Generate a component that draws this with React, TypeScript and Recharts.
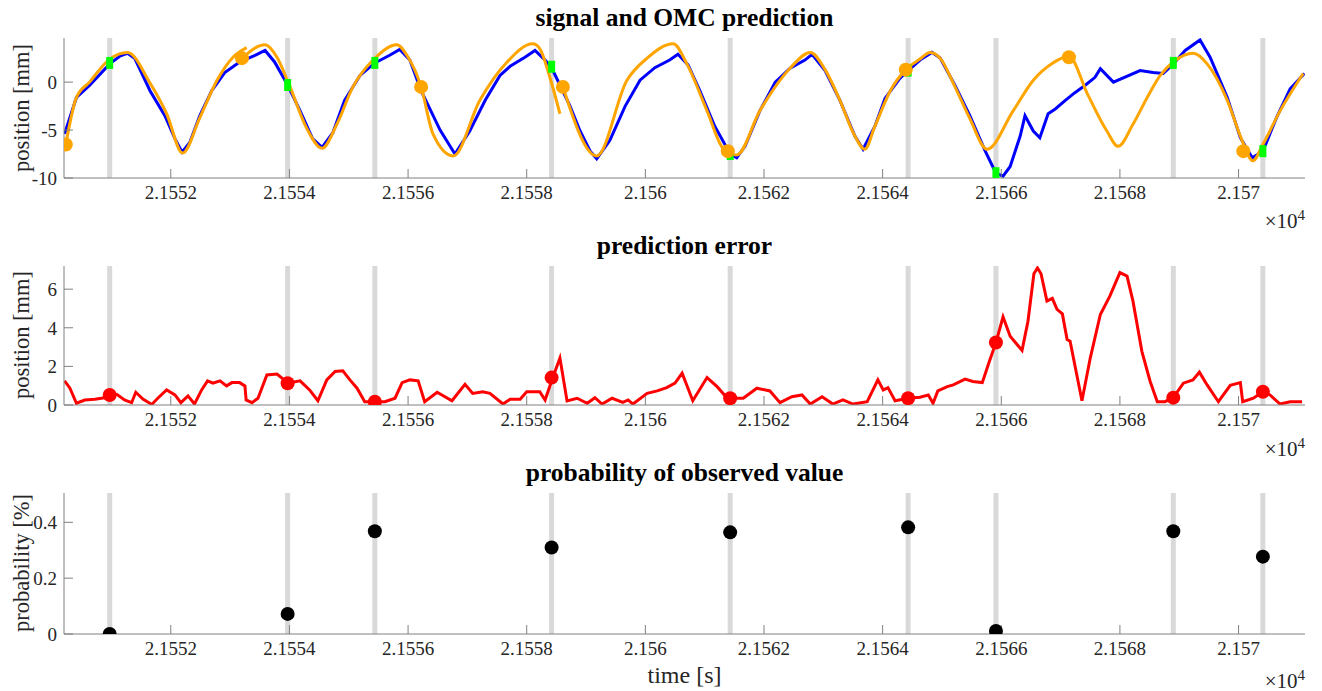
import { ComposedChart, Line, Scatter, XAxis, YAxis, ReferenceLine } from "recharts";

// observation instants (gray lines) and what was measured there
const obsTime = [21550.97, 21553.97, 21555.44, 21558.42, 21561.43, 21564.43, 21565.91, 21568.9, 21570.41];
const obsPos = [2.0, -0.3, 2.0, 1.6, -7.5, 1.2, -9.5, 2.0, -7.2];
const obsError = [0.52, 1.13, 0.17, 1.42, 0.35, 0.35, 3.24, 0.38, 0.69];
const obsProb = [0, 0.072, 0.368, 0.31, 0.364, 0.382, 0.011, 0.368, 0.277];

// OMC prediction markers
const omcTime = [21550.23, 21553.2, 21556.22, 21558.61, 21561.39, 21564.39, 21567.14, 21570.08];
const omcPos = [-6.5, 2.5, -0.5, -0.5, -7.2, 1.3, 2.6, -7.2];

// measured signal
const signalTime = [
  21550.21, 21550.41, 21550.63, 21550.97, 21551.14, 21551.27, 21551.39, 21551.65, 21551.9, 21552.07,
  21552.19, 21552.32, 21552.49, 21552.69, 21552.91, 21553.16, 21553.42, 21553.59, 21553.75, 21553.97,
  21554.18, 21554.39, 21554.55, 21554.73, 21554.93, 21555.19, 21555.44, 21555.69, 21555.86, 21556.03,
  21556.22, 21556.54, 21556.79, 21557.04, 21557.3, 21557.55, 21557.72, 21557.97, 21558.14, 21558.31,
  21558.42, 21558.56, 21558.73, 21558.9, 21559.07, 21559.18, 21559.4, 21559.66, 21559.91, 21560.16,
  21560.41, 21560.55, 21560.72, 21560.92, 21561.17, 21561.43, 21561.54, 21561.68, 21561.93, 21562.19,
  21562.44, 21562.69, 21562.81, 21563.03, 21563.28, 21563.53, 21563.67, 21563.87, 21564.04, 21564.29,
  21564.43, 21564.63, 21564.83, 21564.97, 21565.22, 21565.47, 21565.73, 21565.91, 21566.03, 21566.15,
  21566.32, 21566.4, 21566.54, 21566.65, 21566.79, 21566.91, 21567.08, 21567.24, 21567.41, 21567.58,
  21567.67, 21567.89, 21568.34, 21568.56, 21568.73, 21568.9, 21569.1, 21569.35, 21569.52, 21569.81,
  21570.03, 21570.23, 21570.41, 21570.64, 21570.87, 21571.11,
];
const signalPos = [
  -5.4, -1.6, -0.35, 1.9, 2.7, 3.0, 2.5, -0.9, -3.5, -5.9,
  -7.3, -6.3, -3.5, -0.9, 1.0, 2.1, 2.8, 3.3, 2.1, -0.3,
  -3.0, -5.9, -6.8, -5.3, -1.9, 0.7, 2.0, 2.8, 3.4, 2.3,
  -0.9, -5.0, -7.5, -5.1, -1.9, 0.7, 1.65, 2.6, 3.3, 2.3,
  1.5, -0.3, -2.5, -5.1, -7.2, -8.0, -6.1, -2.5, 0.2, 1.5,
  2.3, 2.9, 1.8, -0.9, -4.6, -7.5, -7.9, -6.7, -3.0, 0.0,
  1.45, 2.3, 2.9, 1.2, -1.9, -5.6, -7.0, -4.6, -1.7, 0.4,
  1.2, 2.3, 3.1, 2.5, -0.35, -3.5, -7.2, -9.5, -9.8, -8.8,
  -5.6, -3.5, -5.1, -5.8, -3.3, -2.8, -1.9, -1.1, -0.35, 0.5,
  1.4, 0.0, 1.2, 1.0, 0.9, 1.9, 3.3, 4.4, 2.6, -1.6,
  -5.8, -7.9, -7.2, -3.7, -0.7, 0.9,
];

// OMC prediction, null marks a restart of the predictor
const predTime = [
  21550.23, 21550.41, 21550.63, 21550.97, 21551.27, 21551.65, 21551.93, 21552.2, 21552.49, 21552.78,
  21553.05, 21553.28, 21553.28,
  21553.2, 21553.59, 21553.79, 21554.01, 21554.29, 21554.55, 21554.8, 21555.07, 21555.41, 21555.81,
  21555.98, 21556.22, 21556.42, 21556.76, 21557.21, 21557.67, 21558.1, 21558.22, 21558.39, 21558.56,
  21558.56,
  21558.61, 21559.18, 21559.69, 21560.03, 21560.47, 21560.7, 21561.04, 21561.31, 21561.54, 21561.93,
  21562.44, 21562.78, 21563.03, 21563.28, 21563.53, 21563.7, 21563.87, 21564.13, 21564.39, 21564.63,
  21564.8, 21564.97, 21565.22, 21565.47, 21565.76, 21566.2, 21566.54, 21566.87, 21567.14, 21567.45,
  21567.78, 21567.97, 21568.22, 21568.46, 21568.68, 21568.9, 21569.24, 21569.47, 21569.81, 21570.06,
  21570.24, 21570.41, 21570.7, 21571.09,
];
const predPos = [
  -6.5, -1.6, 0.0, 2.4, 3.1, -0.1, -3.3, -7.4, -3.7, 0.2,
  2.6, 3.6, null,
  2.5, 3.9, 2.6, -0.5, -4.8, -6.9, -4.4, -0.5, 2.3, 3.9,
  2.8, -0.5, -5.4, -7.7, -1.9, 2.1, 4.0, 3.5, 0.5, -3.3,
  null,
  -0.5, -7.7, 0.2, 2.5, 4.0, 1.9, -3.0, -6.9, -7.6, -3.0,
  1.45, 3.1, 1.3, -1.9, -5.6, -7.0, -4.6, -0.9, 1.3, 2.4,
  3.1, 2.5, -0.5, -3.8, -7.0, -3.0, 0.2, 2.0, 2.7, -1.2,
  -5.1, -6.7, -4.4, -1.6, 0.7, 2.1, 3.0, 1.9, -1.9, -6.1,
  -8.2, -6.5, -3.0, 0.9,
];

// prediction error
const errorTime = [
  21550.21, 21550.3, 21550.41, 21550.55, 21550.72, 21550.94, 21551.09, 21551.22, 21551.34, 21551.41,
  21551.53, 21551.68, 21551.78, 21551.93, 21552.07, 21552.17, 21552.29, 21552.4, 21552.52, 21552.62,
  21552.71, 21552.83, 21552.94, 21553.03, 21553.16, 21553.25, 21553.27, 21553.37, 21553.47, 21553.62,
  21553.79, 21553.89, 21553.97, 21554.18, 21554.34, 21554.48, 21554.63, 21554.77, 21554.9, 21555.02,
  21555.14, 21555.27, 21555.44, 21555.61, 21555.78, 21555.9, 21556.03, 21556.17, 21556.28, 21556.49,
  21556.74, 21556.96, 21557.09, 21557.26, 21557.38, 21557.6, 21557.72, 21557.89, 21558.0, 21558.22,
  21558.31, 21558.44, 21558.56, 21558.68, 21558.85, 21559.02, 21559.15, 21559.27, 21559.44, 21559.62,
  21559.71, 21559.79, 21560.03, 21560.2, 21560.36, 21560.5, 21560.62, 21560.8, 21561.04, 21561.21,
  21561.38, 21561.65, 21561.88, 21562.1, 21562.27, 21562.47, 21562.64, 21562.78, 21562.98, 21563.16,
  21563.33, 21563.5, 21563.74, 21563.92, 21564.01, 21564.09, 21564.21, 21564.43, 21564.63, 21564.77,
  21564.85, 21564.93, 21565.09, 21565.19, 21565.39, 21565.52, 21565.68, 21565.78, 21565.91, 21566.03,
  21566.15, 21566.35, 21566.45, 21566.55, 21566.61, 21566.67, 21566.77, 21566.86, 21566.94, 21567.03,
  21567.11, 21567.16, 21567.36, 21567.5, 21567.67, 21567.83, 21568.0, 21568.12, 21568.22, 21568.37,
  21568.51, 21568.63, 21568.76, 21568.9, 21569.07, 21569.23, 21569.34, 21569.47, 21569.66, 21569.86,
  21570.03, 21570.07, 21570.25, 21570.41, 21570.53, 21570.7, 21570.87, 21571.07,
];
const errorPos = [
  1.25, 0.87, 0.09, 0.26, 0.3, 0.4, 0.55, 0.26, 0.12, 0.66,
  0.31, 0.03, 0.35, 0.78, 0.52, 0.12, 0.47, 0.05, 0.78, 1.25,
  1.13, 1.25, 0.99, 1.16, 1.16, 0.99, 0.26, 0.12, 0.35, 1.56,
  1.6, 1.35, 1.13, 1.25, 0.78, 0.22, 1.3, 1.74, 1.77, 1.3,
  0.87, 0.17, 0.17, 0.17, 0.35, 1.16, 1.3, 1.25, 0.17, 0.66,
  0.22, 1.07, 0.6, 0.69, 0.6, 0.05, 0.3, 0.3, 0.69, 0.69,
  0.26, 1.42, 2.43, 0.21, 0.35, 0.09, 0.38, 0.05, 0.35, 0.14,
  0.26, 0.05, 0.6, 0.73, 0.9, 1.13, 1.65, 0.22, 1.42, 0.95,
  0.35, 0.35, 0.87, 0.73, 0.12, 0.43, 0.52, 0.05, 0.43, 0.05,
  0.26, 0.05, 0.17, 1.3, 0.78, 0.9, 0.22, 0.35, 0.4, 0.52,
  0.09, 0.73, 0.95, 1.04, 1.34, 1.22, 1.16, 2.08, 3.24, 4.56,
  3.56, 2.83, 4.34, 6.8, 7.1, 6.8, 5.38, 5.52, 4.95, 4.72,
  3.39, 3.3, 0.22, 2.43, 4.69, 5.64, 6.86, 6.68, 5.38, 2.78,
  1.22, 0.17, 0.17, 0.38, 1.13, 1.3, 1.7, 1.04, 0.17, 1.02,
  1.16, 0.17, 0.35, 0.69, 0.52, 0.05, 0.17, 0.17,
];

const xTicks = [21552, 21554, 21556, 21558, 21560, 21562, 21564, 21566, 21568, 21570];
const xDomain = [21550.2, 21571.12];
const posTicks = [-10, -5, 0];
const errTicks = [0, 2, 4, 6];
const probTicks = [0, 0.2, 0.4];

const zip = (t: number[], v: (number | null)[]) => t.map((x, i) => ({ t: x, v: v[i] }));

const signal = zip(signalTime, signalPos);
const prediction = zip(predTime, predPos);
const omc = zip(omcTime, omcPos);
const observed = zip(obsTime, obsPos);
const error = zip(errorTime, errorPos);
const errorAtObs = zip(obsTime, obsError);
const prob = zip(obsTime, obsProb);

const W = 1322;
const AXIS = "#808080";
const TEXT = "#262626";
const GRAY = "#d9d9d9";
const tickStyle = { fill: TEXT, fontSize: 19 };

const fmtX = (v: number) => String(parseFloat((v / 10000).toFixed(4)));

const circle = (color: string, r: number) => (p: any) => (
  <circle cx={p.cx} cy={p.cy} r={r} fill={color} />
);
const greenMark = (p: any) => (
  <rect x={p.cx - 3.5} y={p.cy - 6} width={7} height={12} fill="#00ff00" />
);

function Axes({ domain, ticks, xHeight }: { domain: number[]; ticks: number[]; xHeight: number }) {
  return [
    <XAxis
      key="xb"
      dataKey="t"
      type="number"
      domain={xDomain}
      allowDataOverflow
      ticks={xTicks}
      tickFormatter={fmtX}
      height={xHeight}
      stroke={AXIS}
      tickSize={-9}
      tickMargin={17}
      tick={tickStyle}
    />,
    <XAxis
      key="xt"
      xAxisId="top"
      orientation="top"
      type="number"
      domain={xDomain}
      allowDataOverflow
      ticks={xTicks}
      height={0}
      stroke={AXIS}
      tickSize={-9}
      tick={false}
    />,
    <YAxis
      key="yl"
      dataKey="v"
      type="number"
      domain={domain}
      allowDataOverflow
      ticks={ticks}
      width={64}
      stroke={AXIS}
      tickSize={-9}
      tickMargin={16}
      tick={tickStyle}
    />,
    <YAxis
      key="yr"
      yAxisId="right"
      orientation="right"
      type="number"
      domain={domain}
      allowDataOverflow
      ticks={ticks}
      width={0}
      stroke={AXIS}
      tickSize={-9}
      tick={false}
    />,
  ];
}

const grayLines = () =>
  obsTime.map((t) => <ReferenceLine key={t} x={t} stroke={GRAY} strokeWidth={5} />);

const title = (text: string, cy: number) => (
  <div
    style={{
      position: "absolute",
      left: 64,
      width: 1241,
      top: cy - 13,
      textAlign: "center",
      fontWeight: "bold",
      fontSize: 25.5,
      lineHeight: "26px",
      color: "#000",
    }}
  >
    {text}
  </div>
);

const yLabel = (text: string, cy: number) => (
  <div
    style={{
      position: "absolute",
      left: 22 - 110,
      top: cy - 12,
      width: 220,
      height: 24,
      lineHeight: "24px",
      textAlign: "center",
      fontSize: 22.5,
      color: TEXT,
      transform: "rotate(-90deg)",
    }}
  >
    {text}
  </div>
);

const exponent = (cy: number) => (
  <div style={{ position: "absolute", right: 17, top: cy - 12, fontSize: 21, lineHeight: "24px", color: TEXT }}>
    ×10<sup style={{ fontSize: 15 }}>4</sup>
  </div>
);

export default function App() {
  return (
    <div
      style={{
        position: "absolute",
        left: 0,
        top: 0,
        width: W,
        height: 691,
        background: "#fff",
        fontFamily: '"Liberation Serif", "Times New Roman", serif',
      }}
    >
      <div style={{ position: "absolute", left: 0, top: 0 }}>
        <ComposedChart width={W} height={230} margin={{ top: 38, right: 17, left: 0, bottom: 0 }}>
          {Axes({ domain: [-10, 4.6], ticks: posTicks, xHeight: 52 })}
          {grayLines()}
          <Line data={signal} dataKey="v" type="linear" stroke="#0000ff" strokeWidth={3} dot={false} isAnimationActive={false} />
          <Line data={prediction} dataKey="v" type="monotone" stroke="#ffa500" strokeWidth={3} dot={false} isAnimationActive={false} />
          <Scatter data={observed} dataKey="v" shape={greenMark} isAnimationActive={false} />
          <Scatter data={omc} dataKey="v" shape={circle("#ffa500", 7)} isAnimationActive={false} />
        </ComposedChart>
      </div>

      <div style={{ position: "absolute", left: 0, top: 230 }}>
        <ComposedChart width={W} height={230} margin={{ top: 36, right: 17, left: 0, bottom: 0 }}>
          {Axes({ domain: [0, 7.2], ticks: errTicks, xHeight: 55 })}
          {grayLines()}
          <Line data={error} dataKey="v" type="linear" stroke="#ff0000" strokeWidth={3} dot={false} isAnimationActive={false} />
          <Scatter data={errorAtObs} dataKey="v" shape={circle("#ff0000", 7)} isAnimationActive={false} />
        </ComposedChart>
      </div>

      <div style={{ position: "absolute", left: 0, top: 460 }}>
        <ComposedChart width={W} height={231} margin={{ top: 33, right: 17, left: 0, bottom: 0 }}>
          {Axes({ domain: [0, 0.505], ticks: probTicks, xHeight: 57 })}
          {grayLines()}
          <Scatter data={prob} dataKey="v" shape={circle("#000000", 7)} isAnimationActive={false} />
        </ComposedChart>
      </div>

      {title("signal and OMC prediction", 18)}
      {title("prediction error", 246)}
      {title("probability of observed value", 473)}
      {yLabel("position [mm]", 108)}
      {yLabel("position [mm]", 335)}
      {yLabel("probability [%]", 563)}
      {exponent(215)}
      {exponent(443)}
      {exponent(675)}
      <div
        style={{
          position: "absolute",
          left: 64,
          width: 1241,
          top: 663,
          textAlign: "center",
          fontSize: 24,
          lineHeight: "24px",
          color: TEXT,
        }}
      >
        time [s]
      </div>
    </div>
  );
}
